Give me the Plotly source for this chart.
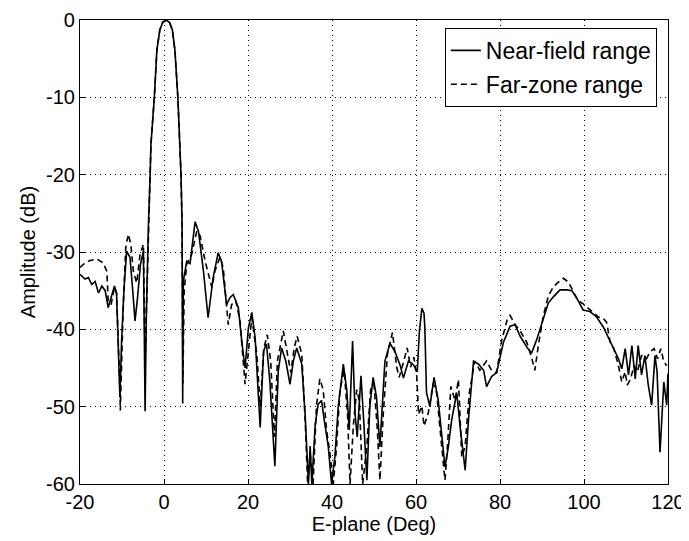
import plotly.graph_objects as go

# ---- Near-field range (solid) ----
near_deg = [
    -20.0, -18.8, -18.0, -17.2, -16.4, -15.6, -14.8, -14.0, -13.3, -12.5,
    -11.8, -11.3, -10.5, -10.1, -9.5, -8.9, -8.1, -7.5, -6.9, -6.3,
    -5.6, -4.9, -4.5, -4.2, -3.9, -3.7, -3.3, -3.1, -2.3, -1.7,
    -1.0, -0.3, 0.5, 1.3, 2.0, 2.6, 3.3, 3.8, 4.05, 4.3,
    4.4, 4.45, 4.6, 5.4, 6.2, 7.4, 8.2, 9.4, 10.5, 11.7,
    12.9, 13.7, 14.9, 15.7, 16.5, 17.7, 18.5, 19.3, 20.1, 20.9,
    21.7, 22.9, 23.7, 24.4, 25.2, 26.4, 27.2, 28.0, 29.0, 30.0,
    30.8, 31.6, 32.8, 33.6, 34.4, 34.8, 35.2, 36.0, 36.7, 37.5,
    38.3, 39.1, 39.9, 40.7, 41.5, 42.7, 43.5, 44.1, 44.9, 45.5,
    46.0, 46.9, 47.6, 48.3, 49.0, 49.8, 50.6, 51.4, 52.6, 53.8,
    55.0, 56.2, 57.0, 58.2, 59.4, 60.3, 60.8, 61.4, 61.9, 62.1,
    62.5, 63.3, 64.3, 65.3, 66.1, 66.9, 67.7, 68.5, 69.7, 70.5,
    71.7, 72.5, 73.7, 74.9, 76.1, 76.8, 78.0, 79.2, 80.8, 82.4,
    83.6, 84.8, 86.4, 87.5, 88.7, 90.3, 91.5, 92.7, 94.3, 95.9,
    97.1, 98.3, 99.8, 101.4, 103.0, 104.6, 105.8, 107.0, 108.2, 109.0,
    109.8, 110.6, 111.4, 112.2, 112.9, 113.7, 114.5, 115.3, 116.1, 116.9,
    117.4, 118.1, 119.0, 119.7, 120.0,
]
near_db = [
    -32.9, -33.5, -33.3, -34.2, -33.8, -35.3, -34.4, -35.0, -37.2, -35.7,
    -34.4, -35.3, -48.8, -41.5, -34.6, -29.9, -30.7, -34.6, -38.9, -35.9,
    -31.6, -29.9, -50.6, -38.0, -30.0, -26.3, -20.0, -16.0, -10.0, -3.9,
    -1.3, -0.3, 0.0, -0.3, -1.3, -3.9, -10.0, -16.0, -20.0, -26.3,
    -35.0, -49.6, -33.8, -31.2, -31.5, -26.1, -27.3, -32.5, -38.5, -33.3,
    -30.1, -31.2, -36.8, -35.9, -35.5, -37.2, -41.5, -45.0, -39.8, -37.8,
    -41.1, -52.7, -42.8, -41.9, -46.7, -57.7, -45.4, -42.4, -44.1, -47.1,
    -44.1, -42.4, -44.5, -51.0, -60.0, -55.1, -60.0, -52.3, -49.7, -49.2,
    -52.3, -55.1, -60.0, -56.4, -49.9, -44.5, -47.8, -53.0, -41.5, -51.0,
    -53.9, -46.0, -52.3, -59.5, -50.0, -46.2, -48.8, -55.2, -44.1, -41.8,
    -42.9, -44.6, -46.3, -44.1, -44.6, -45.5, -40.3, -37.3, -37.9, -39.7,
    -48.2, -50.0, -46.2, -49.2, -53.5, -57.8, -55.2, -51.7, -48.2, -52.6,
    -58.2, -51.7, -44.1, -44.5, -45.3, -47.4, -46.1, -45.6, -41.7, -39.6,
    -39.4, -40.9, -42.3, -43.1, -41.4, -38.8, -36.6, -35.8, -34.9, -34.9,
    -35.0, -36.0, -37.5, -37.7, -38.4, -39.7, -41.0, -42.3, -43.8, -45.1,
    -42.5, -45.9, -42.1, -46.4, -42.1, -45.9, -43.4, -47.2, -49.8, -43.4,
    -45.5, -55.9, -46.8, -49.8, -45.7,
]

# ---- Far-zone range (dashed) ----
far_deg = [
    -20.0, -19.0, -17.6, -16.0, -14.5, -13.6, -13.3, -12.6, -11.8, -11.3,
    -10.5, -10.4, -9.7, -9.1, -8.5, -7.9, -7.3, -6.5, -5.7, -4.9,
    -4.5, -4.2, -3.9, -3.7, -3.3, -3.1, -2.3, -1.7, -1.0, -0.3,
    0.5, 1.3, 2.0, 2.6, 3.3, 3.8, 4.05, 4.3, 4.4, 4.5,
    4.8, 5.4, 6.6, 7.8, 8.6, 9.8, 11.4, 12.1, 13.3, 14.1,
    15.3, 16.1, 17.1, 18.1, 19.3, 20.1, 20.9, 22.1, 22.9, 23.8,
    24.6, 25.4, 26.3, 27.0, 28.4, 29.4, 30.2, 31.0, 31.7, 32.8,
    33.6, 34.2, 34.8, 35.5, 36.3, 37.1, 37.9, 38.7, 39.5, 40.3,
    41.1, 41.9, 42.9, 43.7, 44.3, 45.1, 45.9, 46.5, 47.3, 48.3,
    49.2, 50.0, 50.8, 51.4, 52.2, 53.2, 54.4, 55.4, 56.0, 57.1,
    57.9, 58.7, 59.5, 60.2, 60.6, 61.4, 61.9, 62.9, 64.1, 64.9,
    65.7, 66.9, 67.5, 68.3, 69.3, 70.1, 70.9, 71.7, 72.7, 74.0,
    75.2, 76.8, 78.0, 79.2, 80.4, 81.7, 82.4, 83.6, 84.8, 86.4,
    87.5, 88.3, 89.1, 90.3, 91.5, 92.7, 93.9, 95.1, 96.3, 97.5,
    98.6, 99.8, 101.0, 102.2, 103.4, 104.6, 105.4, 106.2, 107.1, 108.2,
    109.0, 109.8, 110.3, 111.1, 111.9, 112.7, 113.7, 114.9, 115.7, 116.7,
    117.5, 118.3, 119.0, 119.7,
]
far_db = [
    -32.0, -31.5, -31.1, -30.9, -31.4, -32.5, -36.3, -36.8, -34.6, -35.3,
    -47.6, -50.5, -36.8, -29.4, -27.7, -29.0, -32.5, -34.0, -30.3, -29.0,
    -44.0, -37.5, -30.0, -26.3, -20.0, -16.0, -10.0, -3.9, -1.3, -0.3,
    0.0, -0.3, -1.3, -3.9, -10.0, -16.0, -20.0, -26.3, -35.0, -47.0,
    -35.0, -31.6, -30.3, -27.3, -27.9, -31.2, -34.6, -32.5, -30.7, -32.0,
    -39.4, -36.8, -36.3, -38.9, -47.1, -42.4, -38.5, -43.2, -49.9, -42.4,
    -40.7, -44.1, -53.9, -44.1, -40.2, -43.2, -45.6, -42.4, -40.9, -43.2,
    -51.6, -60.0, -56.0, -60.0, -49.9, -46.4, -47.8, -53.0, -56.0, -60.0,
    -55.1, -47.8, -45.3, -51.0, -60.0, -52.3, -47.8, -49.2, -60.0, -55.1,
    -47.8, -47.1, -53.0, -59.5, -51.0, -43.2, -40.4, -44.9, -46.2, -44.1,
    -42.4, -44.9, -43.6, -46.2, -51.0, -49.9, -52.5, -50.9, -47.0, -48.2,
    -52.6, -59.5, -55.1, -47.4, -49.2, -46.5, -56.5, -55.1, -48.2, -44.1,
    -45.3, -44.1, -45.3, -45.6, -41.4, -38.8, -38.2, -39.4, -40.2, -41.7,
    -43.6, -45.3, -42.2, -38.3, -35.7, -34.5, -33.9, -33.4, -33.9, -35.2,
    -36.3, -36.7, -37.3, -37.8, -38.4, -38.6, -39.1, -41.6, -42.5, -44.7,
    -46.8, -45.5, -47.2, -46.4, -44.7, -45.5, -43.4, -43.8, -42.9, -42.5,
    -43.8, -42.5, -44.2, -44.7,
]

x_ticks = [-20, 0, 20, 40, 60, 80, 100, 120]
x_tick_labels = ["-20", "0", "20", "40", "60", "80", "100", "120"]
y_ticks = [0, -10, -20, -30, -40, -50, -60]
y_tick_labels = ["0", "-10", "-20", "-30", "-40", "-50", "-60"]

assert len(near_deg) == len(near_db)
assert len(far_deg) == len(far_db)

FONT = "Liberation Sans, Arial, Helvetica, sans-serif"

fig = go.Figure()
fig.add_trace(go.Scatter(
    x=near_deg, y=near_db, mode="lines", name="Near-field range",
    legendgroup="a",
    line=dict(color="black", width=1.6),
))
fig.add_trace(go.Scatter(
    x=far_deg, y=far_db, mode="lines", name="Far-zone range",
    legendgroup="b",
    line=dict(color="black", width=1.6, dash="6px,4px"),
))

axis_common = dict(
    showline=True, linecolor="black", linewidth=1.2, mirror=True,
    showgrid=True, gridcolor="black", griddash="1px,4px", gridwidth=1,
    zeroline=False, ticks="inside", ticklen=5, tickcolor="black",
    tickfont=dict(family=FONT, size=20, color="black"),
    automargin=False,
)

# The page body adds an 8 px offset, so the figure is sized to fit inside it.
fig.update_layout(
    width=681, height=533,
    margin=dict(l=72, r=21, t=12, b=57),
    paper_bgcolor="white", plot_bgcolor="white",
    font=dict(family=FONT, size=20, color="black"),
    showlegend=True,
    legend=dict(
        x=0.981, y=0.983, xanchor="right", yanchor="top",
        bordercolor="black", borderwidth=1, bgcolor="white",
        font=dict(family=FONT, size=23, color="black"),
        tracegroupgap=1,
    ),
    xaxis=dict(
        range=[-20, 120], tickvals=x_ticks, ticktext=x_tick_labels,
        title=dict(text="E-plane (Deg)", standoff=2,
                   font=dict(family=FONT, size=20, color="black")),
        **axis_common,
    ),
    yaxis=dict(
        range=[-60, 0], tickvals=y_ticks, ticktext=y_tick_labels,
        title=dict(text="Amplitude (dB)", standoff=4,
                   font=dict(family=FONT, size=20, color="black")),
        **axis_common,
    ),
)

fig.write_html("out.html")
